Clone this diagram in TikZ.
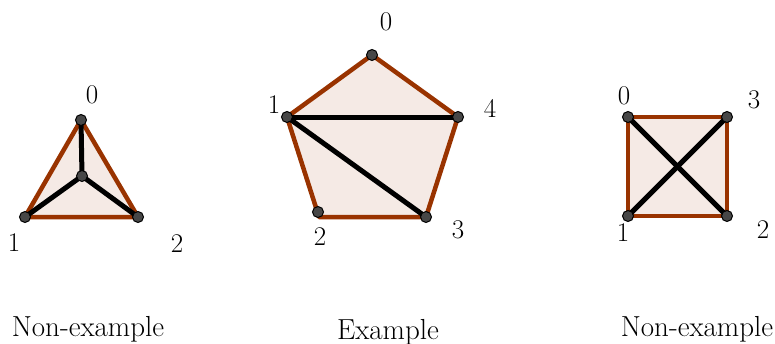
\documentclass[tikz,border=0pt]{standalone}
\usepackage{tikz}
\usetikzlibrary{positioning}
\definecolor{rim}{RGB}{153,51,0}
\tikzset{
    face/.style={fill=rim, fill opacity=0.1, draw=none},
    rimedge/.style={draw=rim, line width=4.5pt, line join=round},
    chord/.style={draw=black, line width=5pt, line cap=round},
    vertex/.style={circle, draw=black, fill=black!72, line width=1pt, minimum size=11pt, inner sep=0pt},
    vlabel/.style={font=\fontsize{27}{32}\selectfont, inner sep=0pt},
    caption/.style={font=\fontsize{29}{34}\selectfont, inner sep=0pt}
}
\begin{document}
\begin{tikzpicture}[x=1pt, y=-1pt]
        \useasboundingbox (0,0) rectangle (775,343);

        % -----------------------------------------------------------------
        % TRIANGLE (non-example)
        % -----------------------------------------------------------------
        \coordinate (t0) at (81,120);
        \coordinate (t1) at (25,217);
        \coordinate (t2) at (138,217);
        \coordinate (tc) at (82,176);
        \fill[face] (t0) -- (t1) -- (t2) -- cycle;
        \draw[rimedge] (t0) -- (t1) -- (t2) -- cycle;
        \draw[chord] (t0) -- (tc);
        \draw[chord] (t1) -- (tc);
        \draw[chord] (t2) -- (tc);
        \foreach \v in {t0,t1,t2,tc} \node[vertex] at (\v) {};
        \node[vlabel] (lt0) at (92,95) {0};
        \node[vlabel] (lt1) at (14,243) {1};
        \node[vlabel] (lt2) at (177,244) {2};

        % -----------------------------------------------------------------
        % PENTAGON (example)
        % -----------------------------------------------------------------
        \coordinate (p0) at (372,55);
        \coordinate (p1) at (287,117);
        \coordinate (p2) at (319,217);
        \coordinate (p3) at (426,217);
        \coordinate (p4) at (458,117);
        \coordinate (p2dot) at (318,212);
        \fill[face] (p0) -- (p1) -- (p2) -- (p3) -- (p4) -- cycle;
        \draw[rimedge] (p0) -- (p1) -- (p2) -- (p3) -- (p4) -- cycle;
        \draw[chord] (p1) -- (p4);
        \draw[chord] (p1) -- (p3);
        \foreach \v in {p0,p1,p2dot,p3,p4} \node[vertex] at (\v) {};
        \node[vlabel] (lp0) at (386,22) {0};
        \node[vlabel] (lp1) at (274,105) {1};
        \node[vlabel] (lp2) at (320,237) {2};
        \node[vlabel] (lp3) at (458,230) {3};
        \node[vlabel] (lp4) at (490,108) {4};

        % -----------------------------------------------------------------
        % SQUARE (non-example)
        % -----------------------------------------------------------------
        \coordinate (s0) at (628,117);
        \coordinate (s1) at (628,216);
        \coordinate (s2) at (727,216);
        \coordinate (s3) at (727,117);
        \fill[face] (s0) -- (s1) -- (s2) -- (s3) -- cycle;
        \draw[rimedge] (s0) -- (s1) -- (s2) -- (s3) -- cycle;
        \draw[chord] (s0) -- (s2);
        \draw[chord] (s1) -- (s3);
        \foreach \v in {s0,s1,s2,s3} \node[vertex] at (\v) {};
        \node[vlabel] (ls0) at (624,96) {0};
        \node[vlabel] (ls1) at (623,233) {1};
        \node[vlabel] (ls2) at (763,230) {2};
        \node[vlabel] (ls3) at (754,100) {3};

        % captions
        \node[caption] (c1) at (88,329) {Non-example};
        \node[caption] (c2) at (388,332) {Example};
        \node[caption] (c3) at (697,329) {Non-example};

    \end{tikzpicture}
\end{document}
